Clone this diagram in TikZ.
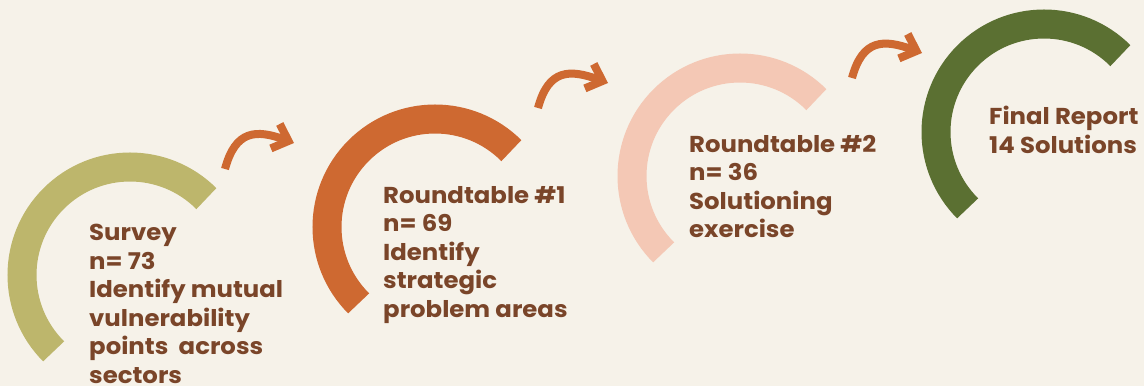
\documentclass[tikz,border=0pt]{standalone}
\usepackage{fontspec}
\setmainfont{Poppins}[FakeStretch=1.06]
\usetikzlibrary{arrows.meta,calc}

\definecolor{paper}{HTML}{F6F2E9}
\definecolor{khaki}{HTML}{BDB66C}
\definecolor{rust}{HTML}{CE6931}
\definecolor{blush}{HTML}{F4C8B5}
\definecolor{moss}{HTML}{5B7032}
\definecolor{bark}{HTML}{7A4529}

\begin{document}
\begin{tikzpicture}[x=1pt, y=1pt,
  ring/.style={line width=29pt, draw=#1},
  hop/.style={line width=8pt, draw=rust, -{Straight Barb[length=14pt,width=26pt]}, out=75, in=160, looseness=1.4},
  stage/.style={anchor=north west, align=left, inner sep=0pt, text=bark, font=\bfseries\fontsize{23}{28.5}\selectfont}
]
\fill[paper] (0,0) rectangle (1144,386);
\useasboundingbox (0,0) rectangle (1144,386);

% ring centres
\coordinate (sv) at (130,111);
\coordinate (rt1) at (435,159);
\coordinate (rt2) at (740,210);
\coordinate (fin) at (1044,254);

\draw[ring=khaki] ($(sv)+(45:108)$) arc[start angle=45, end angle=225, radius=108pt];
\draw[ring=rust] ($(rt1)+(45:108)$) arc[start angle=45, end angle=225, radius=108pt];
\draw[ring=blush] ($(rt2)+(45:108)$) arc[start angle=45, end angle=225, radius=108pt];
\draw[ring=moss] ($(fin)+(45:108)$) arc[start angle=45, end angle=225, radius=108pt];

% arrows between stages
\coordinate (t1) at (225,217);
\coordinate (h1) at (294,243);
\coordinate (t2) at (538,278);
\coordinate (h2) at (608,303);
\coordinate (t3) at (852,308);
\coordinate (h3) at (922,333);
\draw[hop] (t1) to (h1);
\draw[hop] (t2) to (h2);
\draw[hop] (t3) to (h3);

% labels
\node[stage] (svtxt) at (89,162) {Survey\\n= 73\\Identify mutual\\vulnerability\\points\ \ across\\sectors};
\node[stage] (rt1txt) at (383,200) {Roundtable \#1\\n= 69\\Identify\\strategic\\problem areas};
\node[stage] (rt2txt) at (689,251) {Roundtable \#2\\n= 36\\Solutioning\\exercise};
\node[stage] (fintxt) at (989,280) {Final Report\\14 Solutions};
\end{tikzpicture}
\end{document}
